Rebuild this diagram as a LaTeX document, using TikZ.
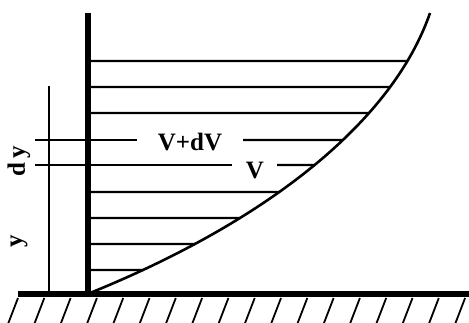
\documentclass[tikz,border=0pt]{standalone}
\usepackage{fontspec}
\setmainfont{Liberation Serif}
\usetikzlibrary{intersections}
\begin{document}
\begin{tikzpicture}[x=1pt,y=-1pt,
  wall/.style={line width=5.5pt},
  vel/.style={line width=2.2pt},
  prof/.style={line width=2.6pt},
  axisline/.style={line width=2pt},
  hatchline/.style={line width=1.8pt},
  lbl/.style={font=\bfseries\fontsize{25}{25}\selectfont, inner sep=0pt}]
\useasboundingbox (0,0) rectangle (469,322);
% velocity profile
\coordinate (c0) at (90,293);
\coordinate (c1) at (430,13);
\draw[prof, name path=curve] (c0) .. controls (265,222) and (392,123) .. (c1);
% velocity lines
\foreach \yy in {61,87,113,192,218,244,270} {
  \path[name path=hl] (88,\yy) -- (469,\yy);
  \draw[vel, name intersections={of=curve and hl}] (88,\yy) -- (intersection-1);
}
\path[name path=hla] (88,140) -- (469,140);
\path[name path=hlb] (88,165) -- (469,165);
\draw[vel] (35,140) -- (137,140);
\draw[vel, name intersections={of=curve and hla, name=ia}] (243,140) -- (ia-1);
\draw[vel] (35,165) -- (232,165);
\draw[vel, name intersections={of=curve and hlb, name=ib}] (277,165) -- (ib-1);
% wall and ground
\draw[wall] (88,13) -- (88,295);
\draw[wall] (18,294) -- (469,294);
\foreach \k in {0,...,17}
  \draw[hatchline] ({8+26.3*\k},324) -- ({18+26.3*\k},298);
% y axis
\draw[axisline] (49,86) -- (49,293);
% labels
\node[lbl] (vdv) at (190,142) {V+dV};
\node[lbl] (v) at (255,171) {V};
\node[lbl, rotate=90] (dy) at (19,161) {d\,y};
\node[lbl, rotate=90] (yl) at (19,241) {y};
\end{tikzpicture}
\end{document}
